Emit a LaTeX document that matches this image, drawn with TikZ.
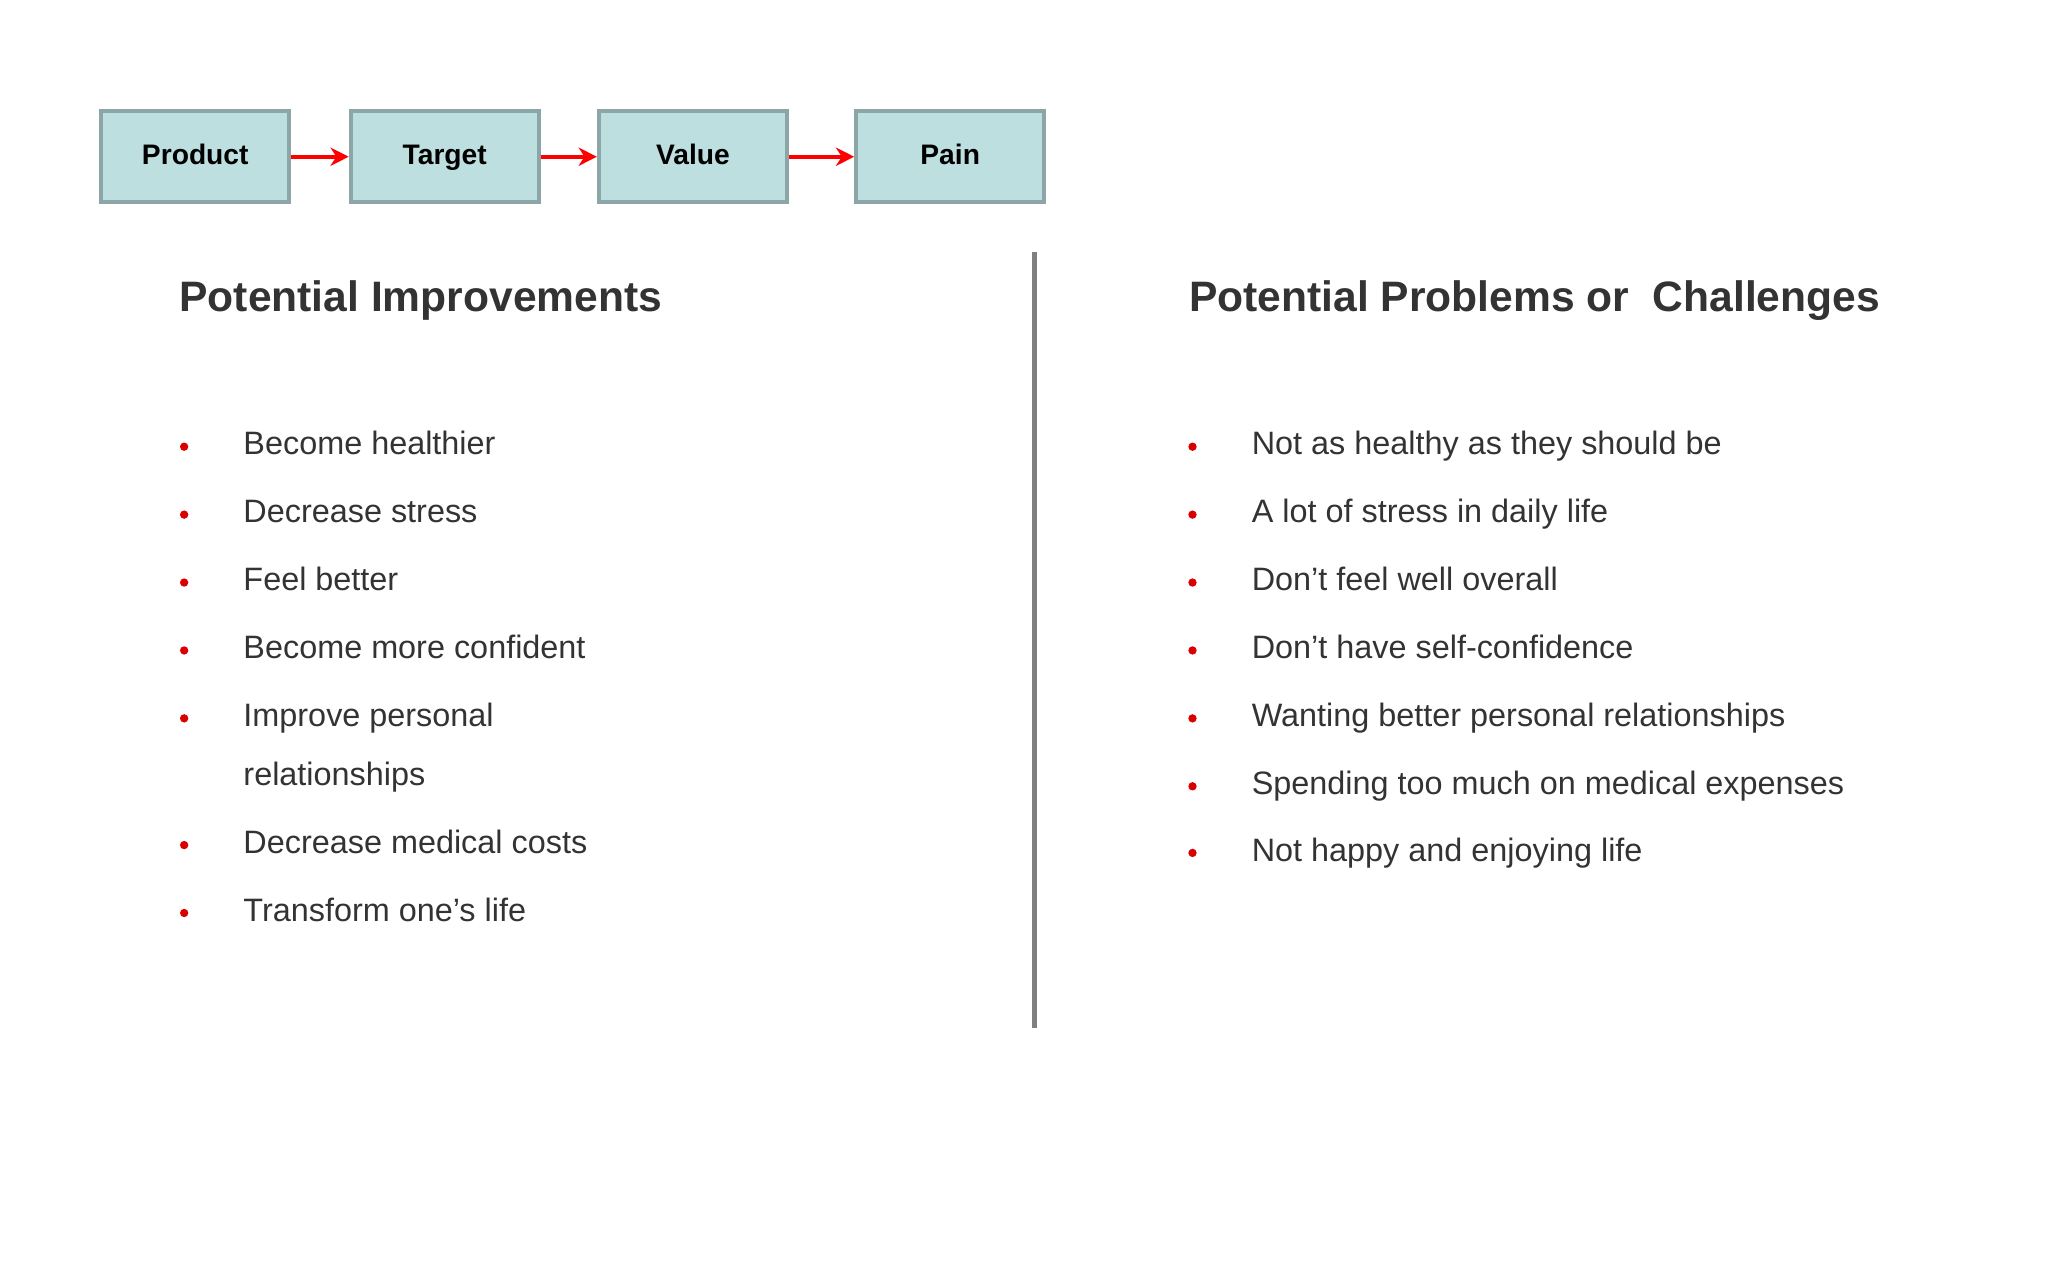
\documentclass[tikz,border=0pt]{standalone}
\usepackage{fontspec}
\setmainfont{Liberation Sans}
\usetikzlibrary{arrows.meta}
\definecolor{boxfill}{HTML}{BEDFE0}
\definecolor{boxline}{HTML}{8CA6A8}
\definecolor{txt}{HTML}{333333}
\tikzset{
 x=0.5pt,y=-0.5pt,
 stage/.style={draw=boxline,line width=1.5pt,fill=boxfill,minimum width=72pt,minimum height=35pt,font=\fontsize{10.8}{12}\selectfont\bfseries,inner sep=0pt,text height=7.8pt,text depth=2.2pt},
 flow/.style={draw=red,line width=1.5pt,-{Stealth[length=7pt,width=7pt]}},
 head/.style={anchor=west,font=\fontsize{16.3}{19}\selectfont\bfseries,text=txt,inner sep=0pt,text height=11.7pt,text depth=3.2pt},
 item/.style={anchor=west,font=\fontsize{12.4}{14}\selectfont,text=txt,inner sep=0pt,text height=8.9pt,text depth=2.6pt},
 dot/.style={circle,fill=red!85!black,minimum size=3.2pt,inner sep=0pt}
}
\begin{document}
\begin{tikzpicture}
\useasboundingbox (0,0) rectangle (1568,980);
\node[stage] (p) at (149.5,120) {Product};
\node[stage] (t) at (340.5,120) {Target};
\node[stage] (v) at (530.5,120) {Value};
\node[stage] (n) at (727.5,120) {Pain};
\draw[flow] (p) -- (t);
\draw[flow] (t) -- (v);
\draw[flow] (v) -- (n);
\coordinate (d1) at (792,193); \coordinate (d2) at (792,787);
\draw[gray,line width=2pt] (d1) -- (d2);
\node[head] (h1) at (137,230) {Potential Improvements};
\node[head] (h2) at (910,230) {Potential Problems or\ \ Challenges};
\foreach \y/\t [count=\i] in {342/Become healthier,394/Decrease stress,446/Feel better,498/Become more confident,550/Improve personal,647/Decrease medical costs,699/Transform one’s life}{
 \node[dot] (la\i) at (141,\y) {};
 \node[item] (lt\i) at (186,\y) {\t};
}
\node[item] (lt5b) at (186,595) {relationships};
\foreach \y/\t [count=\i] in {342/Not as healthy as they should be,394/A lot of stress in daily life,446/Don’t feel well overall,498/Don’t have self-confidence,550/Wanting better personal relationships,602/Spending too much on medical expenses,653/Not happy and enjoying life}{
 \node[dot] (ra\i) at (913,\y) {};
 \node[item] (rt\i) at (958,\y) {\t};
}
\end{tikzpicture}
\end{document}
